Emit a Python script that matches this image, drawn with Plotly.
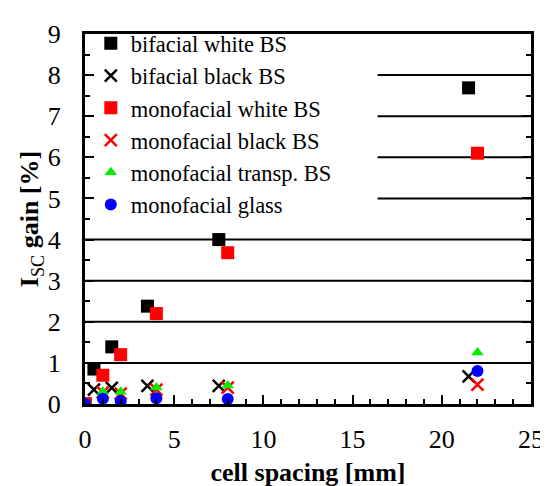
import plotly.graph_objects as go

# Data
x_bif = [0, 0.5, 1.5, 3.5, 7.5, 21.5]
x_mono = [0, 1, 2, 4, 8, 22]

bif_white = [0, 0.85, 1.39, 2.38, 4.0, 7.69]
bif_black = [0, 0.35, 0.39, 0.44, 0.44, 0.67]
mono_white = [0, 0.7, 1.2, 2.2, 3.68, 6.1]
mono_black = [0, 0.28, 0.25, 0.35, 0.4, 0.47]
mono_transp = [0, 0.3, 0.3, 0.4, 0.45, 1.25]
mono_glass = [0, 0.13, 0.07, 0.14, 0.12, 0.8]

x_ticks = [0, 5, 10, 15, 20, 25]
y_ticks = [0, 1, 2, 3, 4, 5, 6, 7, 8, 9]

FONT = "Liberation Serif"

series = [
    ("bifacial white BS", x_bif, bif_white, "square", "#000000", 13),
    ("bifacial black BS", x_bif, bif_black, "x-thin", "#000000", 12),
    ("monofacial white BS", x_mono, mono_white, "square", "#ff0000", 13),
    ("monofacial black BS", x_mono, mono_black, "x-thin", "#ff0000", 12),
    ("monofacial transp. BS", x_mono, mono_transp, "triangle-up", "#00ee00", 11),
    ("monofacial glass", x_mono, mono_glass, "circle", "#0000ff", 12),
]

fig = go.Figure()
for name, xs, ys, sym, col, sz in series:
    line = dict(color=col, width=2.5) if "thin" in sym else dict(width=0)
    fig.add_trace(go.Scatter(
        x=xs, y=ys, mode="markers", name=name,
        marker=dict(symbol=sym, color=col, size=sz, line=line),
    ))

# horizontal grid lines (the legend box hides the upper ones on the left)
LEGEND_RIGHT = 0.656
for yv in y_ticks[1:-1]:
    fig.add_shape(type="line", xref="paper", yref="y",
                  x0=0 if yv < 5 else LEGEND_RIGHT, x1=1, y0=yv, y1=yv,
                  line=dict(color="black", width=2), layer="below")

fig.update_layout(
    width=548, height=486,
    margin=dict(l=77, r=15, t=17, b=87),
    paper_bgcolor="white", plot_bgcolor="white",
    font=dict(family=FONT, size=26, color="black"),
    showlegend=True,
    legend=dict(x=0.013, y=1.032, xanchor="left", yanchor="top",
                bgcolor="rgba(0,0,0,0)", borderwidth=0,
                font=dict(family=FONT, size=22.5, color="black"),
                itemwidth=30, tracegroupgap=0),
    xaxis=dict(
        range=[0, 25], tickvals=x_ticks, ticks="inside", ticklen=9, tickwidth=2,
        tickcolor="black", showline=True, linecolor="black", linewidth=3,
        mirror=True, showgrid=False, zeroline=False, ticklabelstandoff=10,
        minor=dict(dtick=1, ticks="inside", ticklen=5, tickwidth=2, tickcolor="black"),
        title=dict(text="<b>cell spacing [mm]</b>", font=dict(family=FONT, size=26), standoff=10),
        tickfont=dict(family=FONT, size=26),
    ),
    yaxis=dict(
        range=[0, 9], tickvals=y_ticks, ticks="inside", ticklen=9, tickwidth=2,
        tickcolor="black", showline=True, linecolor="black", linewidth=3,
        mirror="ticks", showgrid=False, zeroline=False, ticklabelstandoff=16,
        minor=dict(dtick=0.5, ticks="inside", ticklen=5, tickwidth=2, tickcolor="black", showgrid=False),
        title=dict(text="<b>I</b><sub>SC</sub><b> gain [%]</b>", font=dict(family=FONT, size=26), standoff=0),
        tickfont=dict(family=FONT, size=26),
    ),
)

fig.write_html("out.html")
